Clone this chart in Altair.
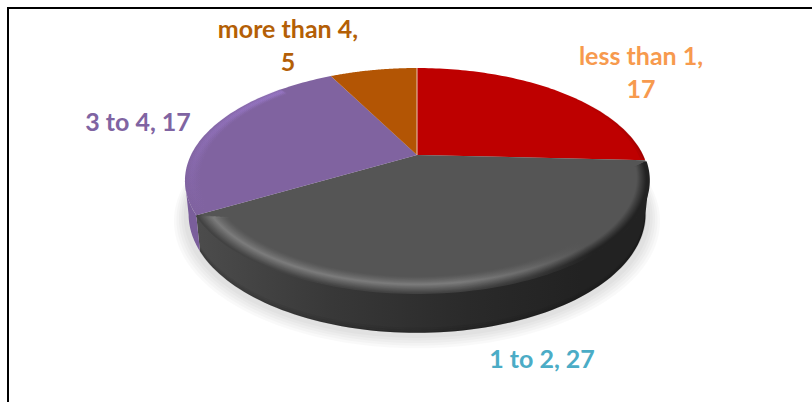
import numpy as np
import pandas as pd
import altair as alt

categories = ["less than 1", "1 to 2", "3 to 4", "more than 4"]
values = [17, 27, 17, 5]
slice_colors = ["#BE0000", "#555555", "#8063A0", "#B35504"]
label_colors = ["#F79A4E", "#4BACC6", "#8064A2", "#B45F06"]
label_lines = [["less than 1,", "17"], ["1 to 2, 27"], ["3 to 4, 17"], ["more than 4,", "5"]]
label_x = [641, 542, 138, 288]
label_y = [57, 360, 123, 30]

# Perspective of the tilted disc
CX, CY = 417.0, 155.0
RX, RY, TILT = 226.0, 106.7, 0.2267
DROP, FLOOR_R = 33.0, 0.985
W, H = 812, 402


def project(theta, r=1.0, drop=0.0):
    front = -np.cos(theta) * r
    scale = 1.0 / (1.0 - TILT * front)
    return (CX + RX * np.sin(theta) * r * scale,
            CY + RY * front * scale + drop * scale)


x_scale = alt.Scale(domain=[0, W], range=[0, W])
y_scale = alt.Scale(domain=[0, H], range=[0, H])
X = alt.X("x:Q", scale=x_scale, axis=None)
Y = alt.Y("y:Q", scale=y_scale, axis=None)


def path_chart(px, py, **style):
    df = pd.DataFrame({"x": px, "y": py, "i": np.arange(len(px))})
    return alt.Chart(df).mark_line(**style).encode(x=X, y=Y, order="i:Q")


def polygon(px, py, **style):
    return path_chart(px, py, interpolate="linear-closed", stroke=None, **style)


def wall(th, fill):
    tx, ty = project(th)
    bx, by = project(th[::-1], FLOOR_R, DROP)
    return polygon(np.r_[tx, bx], np.r_[ty, by], fill=fill)


def stroke_arc(th, r, stroke, width, drop=0.0):
    px, py = project(th, r, drop)
    return path_chart(px, py, stroke=stroke, strokeWidth=width, strokeCap="butt")


def grad(stops, vertical=False):
    box = dict(x1=0, x2=0, y1=1, y2=0) if vertical else dict(x1=0, x2=1, y1=0, y2=0)
    return alt.Gradient(gradient="linear", **box,
                        stops=[alt.GradientStop(offset=o, color=c) for o, c in stops])


def mix(a, b, t):
    t = min(max(t, 0.0), 1.0)
    return tuple(int(round(u + (v - u) * t)) for u, v in zip(a, b))


def css(c):
    return "#%02x%02x%02x" % c


total = sum(values)
edges = np.cumsum([0] + values) / total * 2 * np.pi
x_max = np.pi / 2 + np.arcsin(TILT)
x_min = 3 * np.pi / 2 - np.arcsin(TILT)

layers = []

# Soft shadow below the disc
full = np.linspace(0, 2 * np.pi, 240)[:-1]
for r, d in zip([1.045, 1.035, 1.025, 1.015, 1.005], [36, 35.5, 35, 34.5, 34]):
    px, py = project(full, r, d)
    layers.append(polygon(px, py, fill="#000000", fillOpacity=0.024))

# Side wall, visible on the near half of the disc
layers.append(wall(np.linspace(x_max, edges[2], 90),
                   grad([(0, "#4C4C4C"), (0.3, "#383838"), (0.6, "#2A2A2A"), (0.85, "#222222"), (1, "#222222")])))
layers.append(wall(np.linspace(edges[2], x_min, 24), "#7A5E9B"))
for off, alpha in [(0.5, 0.16), (2.0, 0.1), (3.5, 0.05)]:
    layers.append(stroke_arc(np.linspace(x_max, edges[2], 90), FLOOR_R, f"rgba(0,0,0,{alpha})", 1.6, DROP - off))

# Top face slices
for color, a, b in zip(slice_colors, edges[:-1], edges[1:]):
    th = np.linspace(a, b, 80)
    px, py = project(th)
    layers.append(polygon(np.r_[CX, px], np.r_[CY, py], fill=color))

# Rounded shoulder of the dark slice: a band of fine strokes, lit toward the left
base = (0x55, 0x55, 0x55)
lit = (0x7C, 0x7C, 0x7C)
edge_left = (0x42, 0x42, 0x42)
edge_right = (0x22, 0x22, 0x22)
for r in np.arange(0.998, 0.896, -0.004):
    if r <= 0.945:
        left = mix(base, lit, ((r - 0.896) / 0.049) ** 1.4)
    else:
        left = mix(lit, edge_left, (r - 0.945) / 0.05)
    right = mix(base, edge_right, (r - 0.945) / 0.04)
    mid = mix(left, right, 0.4)
    th = np.linspace(edges[2] - 0.9 * (1 - r), edges[1] + 0.012 + (1 - r), 100)
    layers.append(stroke_arc(th, r, grad([(0, css(left)), (0.58, css(left)), (0.74, css(mid)), (0.88, css(right)), (1, css(right))]), 2.6))

# Same shoulder on the purple slice, fading upward
for r in np.arange(0.996, 0.936, -0.004):
    alpha = round(0.4 * (1 - abs(r - 0.972) / 0.036), 3)
    th = np.linspace(edges[2] + 0.004, 5.5, 40)
    layers.append(stroke_arc(th, r, grad(
        [(0, "rgba(158,124,208,0)"), (0.5, f"rgba(158,124,208,{alpha * 0.3:.3f})"), (1, f"rgba(158,124,208,{alpha * 0.45:.3f})")],
        vertical=True), 2.4))

# Darkened rim of the red slice near the seam with the dark one
for r, alpha in [(0.985, 0.12), (0.996, 0.3)]:
    th = np.linspace(0.85, edges[1] - 0.006, 30)
    layers.append(stroke_arc(th, r, grad(
        [(0, f"rgba(90,0,0,{alpha})"), (1, "rgba(90,0,0,0)")], vertical=True), 2.0))

# Thin seam between the first and last slices
seam_y = [CY, project(np.array([0.0]))[1][0]]
layers.append(path_chart(np.array([CX, CX]), np.array(seam_y), stroke="#E8C8B8", strokeWidth=1))

# Frame at the top and left
layers.append(path_chart(np.array([7.0, W]), np.array([8.0, 8.0]), stroke="#000000", strokeWidth=2))
layers.append(path_chart(np.array([8.0, 8.0]), np.array([7.0, H]), stroke="#000000", strokeWidth=2))

# Slice labels
rows = []
for name, lines, color, lx, ly in zip(categories, label_lines, label_colors, label_x, label_y):
    for n, line in enumerate(lines):
        rows.append({"x": lx, "y": ly + n * 33, "text": line, "color": color})
labels = pd.DataFrame(rows)
layers.append(alt.Chart(labels).mark_text(font="Lato", fontWeight="bold", fontSize=25).encode(
    x=X, y=Y, text="text:N", color=alt.Color("color:N", scale=None)))

chart = alt.layer(*layers).properties(
    width=W, height=H, padding=0, background="#FFFFFF",
    autosize=alt.AutoSizeParams(type="none"),
).configure_view(stroke=None)

chart.save("out.html", embed_options={"renderer": "svg", "actions": False})
